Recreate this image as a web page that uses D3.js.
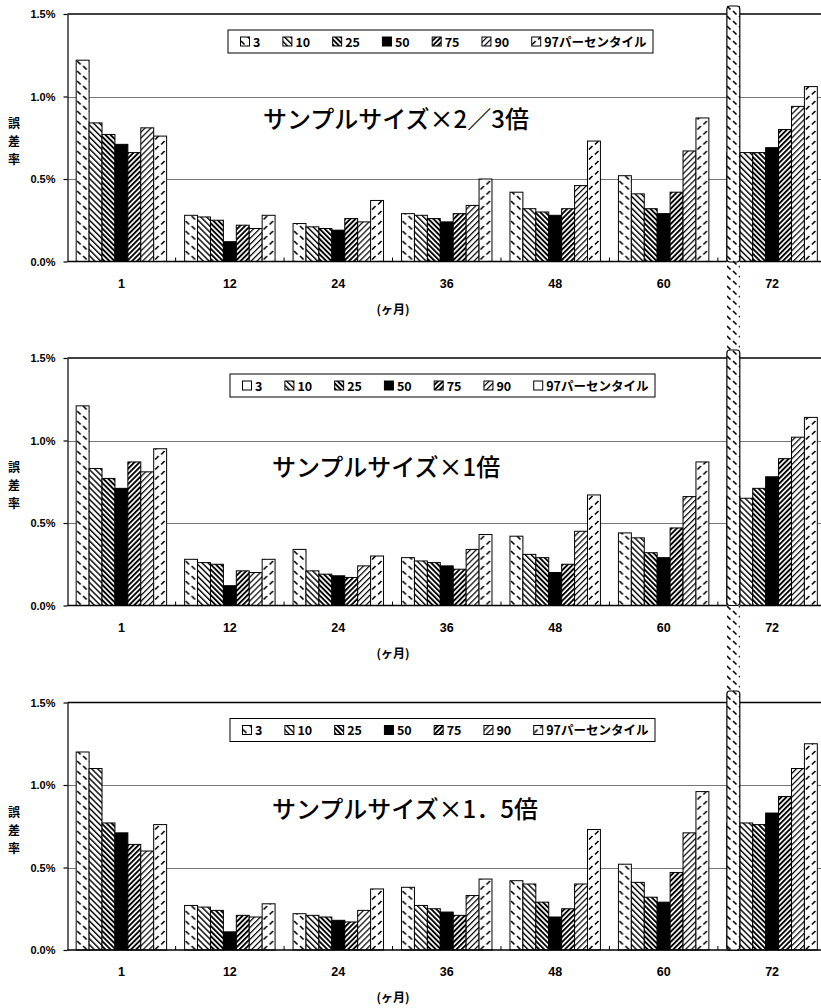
<!DOCTYPE html>
<html>
<head>
<meta charset="utf-8">
<script src="https://cdnjs.cloudflare.com/ajax/libs/d3/7.8.5/d3.min.js"></script>
<style>
	body { margin: 0; background: #fff; }
	text { font-family: "Noto Sans CJK JP", "Liberation Sans", sans-serif; }
</style>
</head>
<body>
<script>
(function () {
	"use strict";

	var months = ["1", "12", "24", "36", "48", "60", "72"];
	var percentiles = ["3", "10", "25", "50", "75", "90", "97"];
	var legendLabels = ["3", "10", "25", "50", "75", "90", "97パーセンタイル"];
	var yTicks = [0, 0.5, 1.0, 1.5];
	var titles = ["サンプルサイズ×2／3倍", "サンプルサイズ×1倍", "サンプルサイズ×1．5倍"];
	var yTitle = ["誤", "差", "率"];
	var xTitle = "(ヶ月)";

	// error rate (%), one row per month, one value per percentile
	var sizeTwoThirds = [
		[1.22, 0.84, 0.77, 0.71, 0.66, 0.81, 0.76],
		[0.28, 0.27, 0.25, 0.12, 0.22, 0.20, 0.28],
		[0.23, 0.21, 0.20, 0.19, 0.26, 0.24, 0.37],
		[0.29, 0.28, 0.26, 0.24, 0.29, 0.34, 0.50],
		[0.42, 0.32, 0.30, 0.28, 0.32, 0.46, 0.73],
		[0.52, 0.41, 0.32, 0.29, 0.42, 0.67, 0.87],
		[0.66, 0.66, 0.66, 0.69, 0.80, 0.94, 1.06]
	];
	var sizeOne = [
		[1.21, 0.83, 0.77, 0.71, 0.87, 0.81, 0.95],
		[0.28, 0.26, 0.25, 0.12, 0.21, 0.20, 0.28],
		[0.34, 0.21, 0.19, 0.18, 0.17, 0.24, 0.30],
		[0.29, 0.27, 0.26, 0.24, 0.22, 0.34, 0.43],
		[0.42, 0.31, 0.29, 0.20, 0.25, 0.45, 0.67],
		[0.44, 0.41, 0.32, 0.29, 0.47, 0.66, 0.87],
		[0.66, 0.65, 0.71, 0.78, 0.89, 1.02, 1.14]
	];
	var sizeOneHalf = [
		[1.20, 1.10, 0.77, 0.71, 0.64, 0.60, 0.76],
		[0.27, 0.26, 0.24, 0.11, 0.21, 0.20, 0.28],
		[0.22, 0.21, 0.20, 0.18, 0.17, 0.24, 0.37],
		[0.38, 0.27, 0.25, 0.23, 0.21, 0.33, 0.43],
		[0.42, 0.40, 0.29, 0.20, 0.25, 0.40, 0.73],
		[0.52, 0.41, 0.32, 0.29, 0.47, 0.71, 0.96],
		[0.77, 0.77, 0.76, 0.83, 0.93, 1.10, 1.25]
	];
	var panels = [sizeTwoThirds, sizeOne, sizeOneHalf];
	// legend swatches drawn empty in the middle panel
	var plainSwatch = [[], ["3", "97"], []];

	var w = 821;
	var h = 1008;
	var panelTop = [14, 358, 702.5];
	var plotH = 247.5;
	var plotLeft = 67.5;
	var titleX = [263, 272, 272];
	var titleY = [103, 107, 105];
	var legendX = [228, 230, 230];
	var stripSegs = [[6, 262], [350, 605.5], [691, 950]];

	var svg = d3.select("body")
		.append("svg")
		.attr("width", w)
		.attr("height", h);

	var x = d3.scaleBand()
		.domain(months)
		.range([plotLeft, 826])
		.paddingInner(0.166)
		.paddingOuter(0.08);

	var inner = d3.scaleBand()
		.domain(percentiles)
		.range([0, x.bandwidth()]);

	function patterns() {
		var defs = svg.append("defs");

		function lines(id, size, width, angle) {
			var p = defs.append("pattern")
				.attr("id", id)
				.attr("patternUnits", "userSpaceOnUse")
				.attr("width", size)
				.attr("height", size)
				.attr("patternTransform", "rotate(" + angle + ")");
			p.append("rect").attr("width", size).attr("height", size).attr("fill", "#fff");
			p.append("rect").attr("x", 0).attr("width", width).attr("height", size).attr("fill", "#000");
		}

		function dashes(id, d) {
			var p = defs.append("pattern")
				.attr("id", id)
				.attr("patternUnits", "userSpaceOnUse")
				.attr("width", 12)
				.attr("height", 10);
			p.append("rect").attr("width", 12).attr("height", 10).attr("fill", "#fff");
			p.append("path").attr("d", d)
				.attr("stroke", "#000").attr("stroke-width", 1.6).attr("fill", "none");
		}

		dashes("p3", "M1,1L4.5,4.5M7,6L10.5,9.5");
		lines("p10", 4.2, 1.4, -45);
		lines("p25", 3.6, 1.9, -45);
		lines("p75", 3.6, 1.9, 45);
		lines("p90", 4.2, 1.2, 45);
		dashes("p97", "M4.5,1L1,4.5M10.5,6L7,9.5");
	}

	function fillFor(p) {
		return p === "50" ? "#000" : "url(#p" + p + ")";
	}

	function buildPanel(ds, i) {
		var top = panelTop[i];
		var base = top + plotH;

		var y = d3.scaleLinear()
			.domain([0, 1.5])
			.range([base, top]);

		var g = svg.append("g");

		g.selectAll("line.grid")
			.data([0.5, 1.0])
			.enter()
			.append("line")
			.attr("x1", plotLeft)
			.attr("x2", w)
			.attr("y1", (d) => Math.round(y(d)) + 0.5)
			.attr("y2", (d) => Math.round(y(d)) + 0.5)
			.attr("stroke", "#777")
			.attr("stroke-width", 1);

		g.append("line")
			.attr("x1", plotLeft).attr("x2", w)
			.attr("y1", y(1.5)).attr("y2", y(1.5))
			.attr("stroke", "#000").attr("stroke-width", 1.3);

		g.selectAll("g.month")
			.data(ds)
			.enter()
			.append("g")
			.attr("transform", (d, j) => "translate(" + x(months[j]) + ",0)")
			.selectAll("rect")
			.data((d) => d)
			.enter()
			.append("rect")
			.attr("x", (d, k) => inner(percentiles[k]))
			.attr("y", (d) => y(d))
			.attr("width", inner.bandwidth())
			.attr("height", (d) => base - y(d))
			.attr("fill", (d, k) => fillFor(percentiles[k]))
			.attr("stroke", "#000")
			.attr("stroke-width", 1);

		var yAxis = d3.axisLeft(y)
			.tickValues(yTicks)
			.tickSize(4)
			.tickSizeOuter(0)
			.tickPadding(8)
			.tickFormat((d) => d.toFixed(1) + "%");

		var ya = g.append("g")
			.attr("transform", "translate(" + plotLeft + ",0)")
			.call(yAxis);
		ya.selectAll("path, line").attr("stroke", "#000").attr("stroke-width", 1.2);
		ya.selectAll("text")
			.attr("font-size", 11)
			.attr("font-weight", "bold")
			.attr("fill", "#000")
			.style("font-family", "'Liberation Sans', sans-serif");

		g.append("line")
			.attr("x1", plotLeft).attr("x2", w)
			.attr("y1", base).attr("y2", base)
			.attr("stroke", "#000").attr("stroke-width", 1.3);

		// small inward ticks between month groups
		g.selectAll("line.xtick")
			.data(months.slice(1))
			.enter()
			.append("line")
			.attr("x1", (d) => x(d) - x.step() * x.paddingInner() / 2)
			.attr("x2", (d) => x(d) - x.step() * x.paddingInner() / 2)
			.attr("y1", base)
			.attr("y2", base - 4)
			.attr("stroke", "#000");

		g.selectAll("text.xlab")
			.data(months)
			.enter()
			.append("text")
			.attr("x", (d) => x(d) + x.bandwidth() / 2)
			.attr("y", base + 26)
			.attr("text-anchor", "middle")
			.attr("font-size", 12.5)
			.attr("font-weight", "bold")
			.style("font-family", "'Liberation Sans', sans-serif")
			.text((d) => d);

		g.append("text")
			.attr("x", 393)
			.attr("y", base + 52)
			.attr("text-anchor", "middle")
			.attr("font-size", 12)
			.attr("font-weight", "bold")
			.text(xTitle);

		// stacked vertical axis title, one tspan per character
		g.append("text")
			.attr("y", top + 114)
			.attr("text-anchor", "middle")
			.attr("font-size", 12)
			.attr("font-weight", "bold")
			.selectAll("tspan")
			.data(yTitle)
			.enter()
			.append("tspan")
			.attr("x", 14)
			.attr("dy", (d, k) => k === 0 ? 0 : 18)
			.text((d) => d);

		g.append("text")
			.attr("x", titleX[i])
			.attr("y", top + titleY[i])
			.attr("dominant-baseline", "central")
			.attr("font-size", 24)
			.attr("font-weight", 500)
			.text(titles[i]);

		showLegend(g, i, top);
	}

	function showLegend(g, i, top) {
		var lg = g.append("g")
			.attr("transform", "translate(" + legendX[i] + "," + (top + 16) + ")");

		lg.append("rect")
			.attr("width", 425)
			.attr("height", 23)
			.attr("fill", "#fff")
			.attr("stroke", "#000")
			.attr("stroke-width", 1);

		var cx = 12;
		percentiles.forEach(function (p, k) {
			var item = lg.append("g").attr("transform", "translate(" + cx + ",0)");
			item.append("rect")
				.attr("x", 0.5).attr("y", 7)
				.attr("width", 9).attr("height", 9)
				.attr("fill", plainSwatch[i].indexOf(p) >= 0 ? "#fff" : fillFor(p))
				.attr("stroke", "#000")
				.attr("stroke-width", 1);
			var t = item.append("text")
				.attr("x", 13)
				.attr("y", 16.5)
				.attr("font-size", 12.5)
				.attr("font-weight", "bold")
				.text(legendLabels[k]);
			cx += 13 + t.node().getComputedTextLength() + 22;
		});
	}

	function showBreak() {
		var sx = x("72") + inner("3");
		var sw = inner.bandwidth();

		svg.append("rect")
			.attr("x", sx)
			.attr("y", stripSegs[0][0])
			.attr("width", sw)
			.attr("height", stripSegs[2][1] - stripSegs[0][0])
			.attr("fill", "url(#p3)");

		svg.selectAll("rect.seg")
			.data(stripSegs)
			.enter()
			.append("rect")
			.attr("x", sx)
			.attr("y", (d) => d[0])
			.attr("width", sw)
			.attr("height", (d) => d[1] - d[0])
			.attr("rx", 3)
			.attr("fill", "none")
			.attr("stroke", "#000")
			.attr("stroke-width", 1.2);
	}

	patterns();
	panels.forEach(function (ds, i) {
		buildPanel(ds, i);
	});
	showBreak();
})();
</script>
</body>
</html>
